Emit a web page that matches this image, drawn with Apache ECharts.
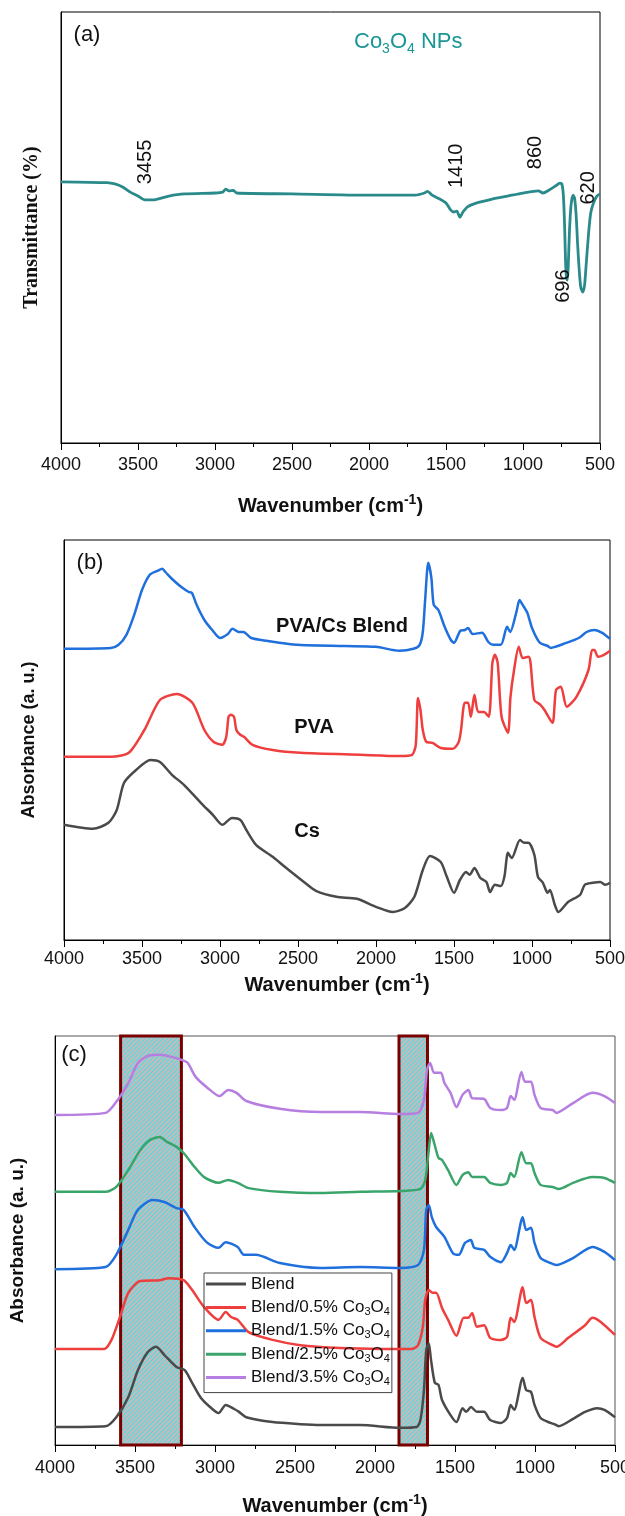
<!DOCTYPE html>
<html>
<head>
<meta charset="utf-8">
<script src="https://cdn.jsdelivr.net/npm/echarts/dist/echarts.min.js"></script>
<style>
  html, body { margin: 0; padding: 0; background: #fff; }
</style>
</head>
<body>
<div id="main" style="width: 625px;height:1516px;"></div>
<script type="text/javascript">
    // ---- data ----
    var xTicks = [500, 4000];

    // (a) Co3O4 NPs transmittance
    var wnCo = [4000,3700,3650,3600,3550,3500,3455,3400,3350,3300,3200,3000,2950,2930,2910,2880,2860,2500,2000,1700,
        1640,1620,1590,1540,1500,1470,1450,1430,1410,1390,1360,1300,1200,1100,1000,900,870,830,790,760,
        748,738,730,724,718,712,706,698,688,675,665,655,645,635,625,612,600,590,575,560,540,520,500];
    var tCo = [60.6,60.4,60.1,59.4,58.2,57.3,56.4,56.4,56.8,57.3,57.8,58.0,58.2,58.9,58.5,58.6,58.0,57.8,57.5,57.5,
        58.0,58.4,57.5,56.6,55.7,54.1,53.6,53.8,52.4,53.6,54.8,55.7,56.6,57.3,58.0,58.5,58.0,58.7,59.6,60.3,
        60.1,57.5,50.6,42.5,38.3,37.8,41.3,49.4,55.2,57.5,56.8,52.9,45.9,40.1,36.2,35.0,36.7,41.3,48.3,53.4,55.9,57.3,57.8];
    var peakNames = ['3455', '1410', '860', '620', '696'];

    // (b) PVA/Cs Blend, PVA, Cs
    var wnPvaCs = [4000,3700,3650,3600,3550,3500,3450,3400,3370,3350,3300,3250,3200,3180,3150,3100,3050,3000,
        2950,2920,2880,2850,2800,2700,2500,2200,2000,1850,1760,1720,1700,1685,1665,1645,1630,1600,
        1560,1520,1500,1460,1430,1410,1380,1320,1280,1250,1200,1160,1140,1100,1080,1060,1030,1000,
        950,900,880,850,800,700,650,600,550,500];
    var aPvaCs = [72.8,73.0,73.8,76.3,81.3,87.5,91.3,92.3,92.8,92.0,90.0,88.3,87.0,86.8,83.8,80.0,77.5,75.5,
        76.5,77.8,77.0,77.0,75.5,74.8,73.8,73.5,73.3,72.3,72.8,73.8,77.0,85.0,94.3,90.5,83.8,82.5,
        78.3,75.0,74.3,77.3,77.5,78.0,76.5,76.8,74.5,73.8,73.8,78.3,77.0,82.0,85.0,83.8,81.8,78.0,
        74.3,73.5,73.0,73.3,74.0,75.5,77.0,77.5,76.8,75.3];

    var wnPva = [4000,3700,3585,3485,3385,3277,3177,3100,3040,2985,2960,2945,2930,2910,2895,2870,2846,2792,2662,2485,
        2100,1846,1769,1745,1731,1715,1700,1677,1638,1585,1508,1470,1455,1431,1410,1392,1369,1345,1308,1277,
        1254,1238,1220,1195,1154,1138,1115,1085,1060,1023,1010,985,946,920,869,846,815,777,715,638,
        615,600,577,538,500];
    var aPva = [45.8,45.8,46.8,52.5,60.0,61.5,59.3,52.5,49.5,48.8,50.8,55.8,56.3,55.8,52.5,51.3,50.8,48.8,47.5,46.8,
        46.3,46.0,46.3,48.8,60.5,57.5,52.5,49.5,49.3,48.0,47.8,49.5,52.5,59.3,59.3,55.8,61.3,57.0,57.0,55.8,
        69.3,71.3,69.3,55.8,51.8,60.8,67.5,73.3,70.5,70.8,69.5,60.0,58.8,57.5,54.3,62.5,63.3,58.3,60.8,67.5,
        72.5,72.5,70.8,71.3,72.3];

    var wnCs = [4000,3815,3715,3662,3615,3538,3446,3385,3308,3231,3123,3046,2985,2923,2869,2831,2769,2662,2585,2462,
        2385,2254,2123,2000,1892,1815,1754,1700,1654,1585,1546,1500,1462,1423,1400,1369,1331,1292,1269,1238,
        1200,1177,1154,1130,1077,1050,1023,985,962,930,900,885,854,831,769,692,662,610,562,530,500];
    var aCs = [28.8,27.8,29.3,32.5,39.3,42.5,45.0,44.5,41.3,38.8,34.3,31.3,28.8,30.5,30.0,27.5,23.8,20.8,18.3,14.5,
        12.3,10.8,10.3,8.3,7.0,8.0,10.8,17.5,21.0,19.5,15.8,11.8,15.0,17.0,16.3,18.0,15.5,14.5,12.0,13.8,
        13.5,15.8,21.8,20.5,25.0,24.3,24.3,21.3,15.8,14.3,11.8,12.5,8.8,7.0,9.5,11.3,13.8,14.3,14.5,13.8,14.3];

    // (c) Blend with Co3O4
    var wnB0 = [4000,3684,3617,3542,3482,3421,3369,3316,3241,3189,3143,3091,3031,2978,2933,2880,2850,2805,2640,2467,
        2340,2092,1843,1739,1716,1694,1680,1664,1650,1626,1603,1581,1528,1491,1453,1430,1400,1363,1318,1280,
        1213,1175,1152,1130,1077,1055,1025,1003,965,904,880,852,762,687,612,566,500];
    var aB0 = [4.4,4.6,6.8,11.7,18.3,22.7,24.0,22.0,19.1,18.3,15.2,11.7,9.3,7.8,9.8,8.8,8.1,6.8,5.6,5.1,
        4.9,4.9,4.2,4.4,6.1,13.4,23.2,24.9,20.8,15.2,14.7,11.0,7.3,5.6,9.0,8.1,9.3,8.1,8.1,6.1,
        5.4,6.6,9.8,8.6,16.4,13.4,13.0,9.8,6.6,5.4,5.1,4.6,6.4,8.1,9.0,8.6,6.8];

    var wnB05 = [4000,3692,3647,3594,3542,3467,3346,3290,3196,3143,3068,2978,2933,2900,2858,2790,2640,2467,2219,1964,
        1769,1731,1701,1686,1664,1640,1618,1581,1543,1491,1446,1416,1393,1363,1318,1280,1213,1175,1152,1130,
        1077,1055,1025,1003,965,890,867,792,687,641,589,500];
    var aB05 = [23.5,23.5,25.7,31.3,37.2,40.1,40.3,40.8,40.3,37.9,33.7,30.6,32.5,31.3,30.6,27.6,25.7,24.4,23.7,23.5,
        23.5,24.4,28.9,35.5,37.9,37.2,37.2,33.5,30.6,26.7,31.1,31.1,32.3,28.9,29.3,26.2,25.7,26.4,31.1,30.1,
        38.6,34.7,35.5,31.3,26.2,24.4,24.0,26.2,29.3,31.1,30.1,26.9];

    var wnB15 = [4000,3684,3617,3542,3482,3391,3316,3241,3196,3128,3053,2978,2933,2858,2820,2745,2595,2340,2092,1843,
        1731,1694,1680,1664,1645,1618,1566,1513,1476,1438,1401,1380,1318,1280,1213,1175,1152,1130,1077,1055,
        1025,1003,965,904,867,762,641,566,500];
    var aB15 = [43.0,43.5,46.5,52.6,57.5,59.9,59.4,57.9,57.5,53.3,49.6,48.2,49.6,48.4,46.5,46.5,44.5,43.3,43.5,43.3,
        44.0,47.7,57.5,58.7,55.7,53.3,50.9,46.9,46.5,49.4,50.1,48.2,47.7,46.0,44.7,46.9,48.9,47.7,55.7,52.6,
        53.1,49.4,45.7,44.5,44.0,45.7,48.4,47.2,45.2];

    var wnB25 = [4000,3684,3617,3542,3467,3406,3346,3300,3241,3196,3128,3068,2978,2918,2858,2790,2595,2340,2092,1843,
        1716,1686,1664,1649,1630,1603,1581,1543,1491,1453,1416,1393,1318,1280,1213,1175,1152,1130,1085,1055,
        1025,1003,965,890,852,762,641,566,500];
    var aB25 = [61.9,61.9,63.1,67.2,72.1,74.6,75.3,74.1,72.9,71.4,68.0,65.5,64.1,64.8,64.1,62.8,61.9,61.6,61.9,62.1,
        62.6,64.8,72.1,76.3,73.8,70.2,69.7,67.2,63.6,66.0,66.7,65.5,65.5,64.1,63.6,64.1,66.5,65.5,71.6,68.9,
        68.9,66.5,63.6,63.1,62.6,64.1,65.5,65.3,64.1];

    var wnB35 = [4000,3684,3617,3542,3482,3421,3346,3271,3204,3170,3121,3046,2971,2918,2865,2805,2595,2340,2092,1843,
        1731,1694,1675,1656,1630,1588,1566,1528,1491,1453,1416,1393,1318,1280,1213,1175,1152,1130,1085,1062,
        1025,1003,965,890,867,762,641,566,500];
    var aB35 = [80.7,81.2,83.9,88.5,93.4,95.1,95.4,94.9,94.1,93.4,90.0,87.3,85.3,86.8,86.1,84.1,82.2,81.4,81.4,80.9,
        81.2,84.4,91.7,93.4,91.0,91.0,88.5,86.1,82.6,85.6,86.8,84.8,84.6,82.4,81.9,82.4,85.3,84.4,91.2,88.8,
        88.8,85.6,82.4,81.9,81.2,83.6,86.1,85.3,83.6];

    var blendNames = ['Blend', 'Blend/0.5% Co3O4', 'Blend/1.5% Co3O4', 'Blend/2.5% Co3O4', 'Blend/3.5% Co3O4'];
    var bands = [[3590, 3210], [1850, 1672]];

    // ---- helpers ----
    function zip(xs, ys) {
        return xs.map(function (x, i) { return [x, ys[i]]; });
    }

    // gray box with cyan diagonal hatching
    function hatch() {
        var c = document.createElement('canvas');
        c.width = 9; c.height = 9;
        var g = c.getContext('2d');
        g.fillStyle = '#bdbdbd';
        g.fillRect(0, 0, 9, 9);
        g.strokeStyle = '#2ee6ef';
        g.lineWidth = 1;
        for (var o = -9; o <= 9; o += 4.5) {
            g.beginPath();
            g.moveTo(o, 9);
            g.lineTo(o + 9, 0);
            g.stroke();
        }
        return c;
    }

    var sans = "'Liberation Sans', Arial, sans-serif";
    var serif = "'Liberation Serif', 'Times New Roman', serif";

    function xAxisFor(idx, gap, margin) {
        return {
            gridIndex: idx, type: 'value', min: xTicks[0], max: xTicks[1], interval: 500, inverse: true,
            axisLine: {lineStyle: {color: '#000', width: 1}},
            axisTick: {length: 7, lineStyle: {color: '#000'}},
            minorTick: {show: true, splitNumber: 2, length: 4, lineStyle: {color: '#000'}},
            axisLabel: {fontSize: 18, color: '#111', margin: margin, fontFamily: sans,
                formatter: function (v) { return String(v); }},
            splitLine: {show: false},
            name: '{n|Wavenumber (cm}{s|-1}{n|)}',
            nameLocation: 'middle', nameGap: gap,
            nameTextStyle: {
                rich: {
                    n: {fontSize: 20, fontWeight: 'bold', color: '#111', fontFamily: sans, lineHeight: 26},
                    s: {fontSize: 14, fontWeight: 'bold', color: '#111', fontFamily: sans, lineHeight: 12, verticalAlign: 'top'}
                }
            }
        };
    }

    function yAxisFor(idx, name, gap, font, size) {
        return {
            gridIndex: idx, type: 'value', min: 0, max: 100,
            axisLine: {show: true, lineStyle: {color: '#000', width: 1}},
            axisTick: {show: false}, axisLabel: {show: false}, splitLine: {show: false},
            name: name, nameLocation: 'middle', nameGap: gap,
            nameTextStyle: {fontSize: size, fontWeight: 'bold', color: '#111', fontFamily: font}
        };
    }

    function line(name, idx, data, color, width) {
        return {
            name: name, type: 'line', xAxisIndex: idx, yAxisIndex: idx,
            data: data, showSymbol: false, smooth: 0.25,
            lineStyle: {color: color, width: width || 2.5},
            itemStyle: {color: color}
        };
    }

    var myChart = echarts.init(document.getElementById('main'));

    var coSeries = line('Co3O4 NPs', 0, zip(wnCo, tCo), '#2a8a8a', 2.8);
    coSeries.markPoint = {
        symbol: 'circle', symbolSize: 0, silent: true,
        label: {show: true, position: 'inside', rotate: 90, fontSize: 20, color: '#111', fontFamily: sans,
            formatter: function (p) { return p.name; }},
        data: [
            {name: peakNames[0], coord: [3449, 65.2]},
            {name: peakNames[1], coord: [1429, 64.3]},
            {name: peakNames[2], coord: [916, 67.4]},
            {name: peakNames[3], coord: [575, 59.2]},
            {name: peakNames[4], coord: [740, 36.4]}
        ]
    };

    var blendColors = ['#4a4a4a', '#ee3e3e', '#1f6fdc', '#3aa56b', '#b57ee0'];
    var blendData = [zip(wnB0, aB0), zip(wnB05, aB05), zip(wnB15, aB15), zip(wnB25, aB25), zip(wnB35, aB35)];
    var cSeries = blendNames.map(function (n, i) { return line(n, 2, blendData[i], blendColors[i]); });
    cSeries[0].markArea = {
        silent: true,
        itemStyle: {color: {image: hatch(), repeat: 'repeat'}, borderColor: '#7a0000', borderWidth: 3},
        data: bands.map(function (b) { return [{xAxis: b[0]}, {xAxis: b[1]}]; })
    };

    var option = {
        animation: false,
        backgroundColor: '#fff',
        grid: [
            {left: 61, top: 12, width: 539, height: 431, show: true, borderColor: '#000', borderWidth: 1, outerBoundsMode: 'none'},
            {left: 64, top: 540, width: 546, height: 400, show: true, borderColor: '#000', borderWidth: 1, outerBoundsMode: 'none'},
            {left: 55, top: 1036, width: 560, height: 409, show: true, borderColor: '#555', borderWidth: 1, outerBoundsMode: 'none'}
        ],
        xAxis: [xAxisFor(0, 50, 13), xAxisFor(1, 32, 10), xAxisFor(2, 48, 14)],
        yAxis: [
            yAxisFor(0, 'Transmittance (%)', 19, serif, 20),
            yAxisFor(1, 'Absorbance (a. u.)', 26, sans, 18),
            yAxisFor(2, 'Absorbance (a. u.)', 28, sans, 19)
        ],
        title: {
            text: '{n|Co}{s|3}{n|O}{s|4}{n| NPs}',
            left: 354, top: 28, padding: 0,
            textStyle: {
                fontWeight: 'normal',
                rich: {
                    n: {fontSize: 22, fontWeight: 'normal', color: '#1a9696', fontFamily: sans, lineHeight: 28},
                    s: {fontSize: 14, fontWeight: 'normal', color: '#1a9696', fontFamily: sans, lineHeight: 12, verticalAlign: 'bottom'}
                }
            }
        },
        legend: {
            data: blendNames, orient: 'vertical', left: 204, top: 1273,
            padding: [1, 2, 5, 2], itemGap: 3.4, itemWidth: 40, itemHeight: 3, icon: 'rect',
            borderColor: '#444', borderWidth: 1, selectedMode: false,
            formatter: function (n) { return n.replace('Co3O4', 'Co{s|3}O{s|4}'); },
            textStyle: {
                fontSize: 17, color: '#111', fontFamily: sans, lineHeight: 20,
                rich: {s: {fontSize: 11, color: '#111', fontFamily: sans, lineHeight: 10, verticalAlign: 'bottom'}}
            }
        },
        graphic: [
            {type: 'text', x: 87, y: 35, style: {text: '(a)', fontSize: 22, fontFamily: sans, fill: '#111', align: 'center', verticalAlign: 'middle'}},
            {type: 'text', x: 90, y: 563, style: {text: '(b)', fontSize: 22, fontFamily: sans, fill: '#111', align: 'center', verticalAlign: 'middle'}},
            {type: 'text', x: 74, y: 1055, style: {text: '(c)', fontSize: 22, fontFamily: sans, fill: '#111', align: 'center', verticalAlign: 'middle'}},
            {type: 'text', x: 342, y: 626, style: {text: 'PVA/Cs Blend', fontSize: 20, fontWeight: 'bold', fontFamily: sans, fill: '#111', align: 'center', verticalAlign: 'middle'}},
            {type: 'text', x: 314, y: 727, style: {text: 'PVA', fontSize: 20, fontWeight: 'bold', fontFamily: sans, fill: '#111', align: 'center', verticalAlign: 'middle'}},
            {type: 'text', x: 307, y: 831, style: {text: 'Cs', fontSize: 20, fontWeight: 'bold', fontFamily: sans, fill: '#111', align: 'center', verticalAlign: 'middle'}}
        ],
        series: [
            coSeries,
            line('PVA/Cs Blend', 1, zip(wnPvaCs, aPvaCs), '#1f6fdc'),
            line('PVA', 1, zip(wnPva, aPva), '#ee3e3e'),
            line('Cs', 1, zip(wnCs, aCs), '#4a4a4a')
        ].concat(cSeries)
    };

    myChart.setOption(option);
</script>
</body>
</html>
